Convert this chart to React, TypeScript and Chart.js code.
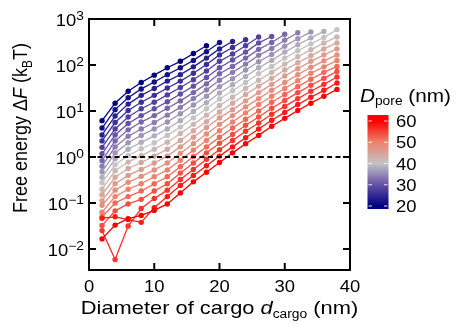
import React, { useEffect, useRef } from "react";
import { Chart, registerables } from "chart.js";

Chart.register(...registerables);

// ---------- data ----------
const cargoDiameters = [2, 4, 6, 8, 10, 12, 14, 16, 18, 20, 22, 24, 26, 28, 30, 32, 34, 36, 38];
const poreDiameters = [20, 22, 24, 26, 28, 30, 32, 34, 36, 38, 40, 42, 44, 46, 48, 50, 52, 54, 56, 58, 60];

// log10 of free energy (kBT), one list per pore diameter, starting at cargo = 2 nm
const log10F_D20 = [0.79, 1.17, 1.43, 1.62, 1.78, 1.94, 2.08, 2.25, 2.42];
const log10F_D22 = [0.63, 1.03, 1.29, 1.48, 1.63, 1.79, 1.94, 2.10, 2.29, 2.49];
const log10F_D24 = [0.48, 0.89, 1.15, 1.34, 1.49, 1.65, 1.79, 1.96, 2.15, 2.35, 2.51];
const log10F_D26 = [0.35, 0.75, 1.01, 1.19, 1.34, 1.50, 1.65, 1.82, 2.01, 2.22, 2.38, 2.55];
const log10F_D28 = [0.21, 0.61, 0.87, 1.05, 1.19, 1.35, 1.51, 1.68, 1.87, 2.08, 2.24, 2.42, 2.61];
const log10F_D30 = [0.07, 0.48, 0.73, 0.90, 1.05, 1.20, 1.37, 1.54, 1.73, 1.94, 2.11, 2.28, 2.48, 2.62];
const log10F_D32 = [-0.08, 0.35, 0.59, 0.76, 0.90, 1.06, 1.22, 1.40, 1.59, 1.81, 1.97, 2.15, 2.34, 2.49, 2.67];
const log10F_D34 = [-0.20, 0.22, 0.45, 0.61, 0.75, 0.91, 1.08, 1.27, 1.46, 1.67, 1.84, 2.02, 2.21, 2.36, 2.54, 2.70];
const log10F_D36 = [-0.32, 0.09, 0.31, 0.47, 0.61, 0.76, 0.94, 1.13, 1.32, 1.53, 1.70, 1.89, 2.07, 2.23, 2.41, 2.57, 2.72];
const log10F_D38 = [-0.44, -0.04, 0.17, 0.32, 0.46, 0.61, 0.79, 0.99, 1.18, 1.39, 1.57, 1.75, 1.94, 2.10, 2.28, 2.44, 2.59, 2.73];
const log10F_D40 = [-0.56, -0.17, 0.03, 0.18, 0.31, 0.47, 0.65, 0.85, 1.05, 1.26, 1.44, 1.62, 1.81, 1.97, 2.15, 2.31, 2.46, 2.60, 2.77];
const log10F_D42 = [-0.70, -0.30, -0.11, 0.03, 0.17, 0.32, 0.51, 0.71, 0.91, 1.12, 1.30, 1.49, 1.67, 1.84, 2.02, 2.18, 2.33, 2.48, 2.61];
const log10F_D44 = [-0.82, -0.44, -0.25, -0.12, 0.02, 0.17, 0.36, 0.57, 0.77, 0.98, 1.17, 1.36, 1.54, 1.71, 1.89, 2.05, 2.20, 2.35, 2.48];
const log10F_D46 = [-0.95, -0.58, -0.40, -0.27, -0.13, 0.02, 0.22, 0.43, 0.64, 0.85, 1.03, 1.22, 1.40, 1.58, 1.76, 1.92, 2.08, 2.22, 2.35];
const log10F_D48 = [-1.05, -0.72, -0.55, -0.42, -0.28, -0.13, 0.08, 0.29, 0.50, 0.71, 0.90, 1.09, 1.27, 1.45, 1.62, 1.79, 1.95, 2.09, 2.22];
const log10F_D50 = [-1.20, -0.86, -0.70, -0.58, -0.43, -0.28, -0.07, 0.15, 0.36, 0.57, 0.76, 0.96, 1.14, 1.32, 1.49, 1.66, 1.82, 1.96, 2.10];
const log10F_D52 = [-1.30, -1.00, -0.86, -0.74, -0.58, -0.43, -0.21, 0.01, 0.22, 0.43, 0.63, 0.82, 1.00, 1.19, 1.36, 1.53, 1.69, 1.84, 1.97];
const log10F_D54 = [-1.49, -1.17, -1.02, -0.92, -0.74, -0.58, -0.35, -0.13, 0.09, 0.30, 0.49, 0.69, 0.87, 1.06, 1.23, 1.40, 1.56, 1.71, 1.86];
const log10F_D56 = [-1.60, -2.23, -1.50, -1.12, -0.90, -0.72, -0.49, -0.27, -0.05, 0.16, 0.36, 0.56, 0.74, 0.93, 1.10, 1.27, 1.43, 1.58, 1.74];
const log10F_D58 = [-1.33, -1.30, -1.36, -1.42, -1.10, -0.86, -0.62, -0.40, -0.19, 0.02, 0.22, 0.42, 0.61, 0.80, 0.97, 1.14, 1.30, 1.45, 1.61];
const log10F_D60 = [-1.78, -1.48, -1.34, -1.27, -1.16, -1.02, -0.78, -0.54, -0.33, -0.12, 0.09, 0.29, 0.47, 0.67, 0.84, 1.01, 1.17, 1.32, 1.47];

const log10FByPore = [
  log10F_D20, log10F_D22, log10F_D24, log10F_D26, log10F_D28, log10F_D30, log10F_D32,
  log10F_D34, log10F_D36, log10F_D38, log10F_D40, log10F_D42, log10F_D44, log10F_D46,
  log10F_D48, log10F_D50, log10F_D52, log10F_D54, log10F_D56, log10F_D58, log10F_D60,
];

const xTickValues = [0, 10, 20, 30, 40];
const yTickExponents = [-2, -1, 0, 1, 2, 3];
const colorbarTickValues = [20, 30, 40, 50, 60];
const thresholdF = 1;
const xRange = [0, 40];
const yRange = [0.0035, 1000];

// ---------- styling ----------
const FONT = '"Liberation Sans", Arial, Helvetica, sans-serif';
const SX = 1.15; // horizontal stretch of the reference's lettering

const cmapStops: [number, number[]][] = [
  [20, [0, 0, 128]],
  [30, [100, 80, 165]],
  [40, [195, 195, 195]],
  [50, [238, 130, 110]],
  [60, [255, 0, 0]],
];

function cmap(v: number): string {
  if (v <= cmapStops[0][0]) return `rgb(${cmapStops[0][1].join(",")})`;
  for (let i = 0; i < cmapStops.length - 1; i++) {
    const [a, ca] = cmapStops[i];
    const [b, cb] = cmapStops[i + 1];
    if (v <= b) {
      const t = (v - a) / (b - a);
      const c = ca.map((q, j) => Math.round(q + (cb[j] - q) * t));
      return `rgb(${c.join(",")})`;
    }
  }
  return `rgb(${cmapStops[cmapStops.length - 1][1].join(",")})`;
}

type Part = { t: string; font: string; dy?: number };

function drawRich(
  ctx: CanvasRenderingContext2D,
  parts: Part[],
  x: number,
  y: number,
  align: "left" | "center" | "right",
  sx = SX
) {
  ctx.save();
  ctx.translate(x, y);
  ctx.scale(sx, 1);
  ctx.textBaseline = "alphabetic";
  ctx.textAlign = "left";
  let w = 0;
  for (const p of parts) {
    ctx.font = p.font;
    w += ctx.measureText(p.t).width;
  }
  let cx = align === "left" ? 0 : align === "center" ? -w / 2 : -w;
  for (const p of parts) {
    ctx.font = p.font;
    ctx.fillText(p.t, cx, p.dy || 0);
    cx += ctx.measureText(p.t).width;
  }
  ctx.restore();
}

function line(ctx: CanvasRenderingContext2D, x1: number, y1: number, x2: number, y2: number) {
  ctx.beginPath();
  ctx.moveTo(x1, y1);
  ctx.lineTo(x2, y2);
  ctx.stroke();
}

const decorPlugin = {
  id: "decor",
  afterDraw(chart: any) {
    const ctx: CanvasRenderingContext2D = chart.ctx;
    const { left, right, top, bottom } = chart.chartArea;
    const xs = chart.scales.x;
    const ys = chart.scales.y;
    ctx.save();
    ctx.fillStyle = "#000";
    ctx.strokeStyle = "#000";

    // frame
    ctx.lineWidth = 2;
    ctx.strokeRect(left, top, right - left, bottom - top);

    // inward ticks
    const tl = 7;
    for (const v of xTickValues) {
      const px = xs.getPixelForValue(v);
      line(ctx, px, bottom, px, bottom - tl);
      line(ctx, px, top, px, top + tl);
    }
    for (const e of yTickExponents) {
      const py = ys.getPixelForValue(Math.pow(10, e));
      line(ctx, left, py, left + tl, py);
      line(ctx, right, py, right - tl, py);
    }

    // x tick labels
    for (const v of xTickValues) {
      const px = xs.getPixelForValue(v);
      drawRich(ctx, [{ t: String(v), font: `16px ${FONT}` }], px, 292, "center");
    }
    // y tick labels 10^n
    for (const e of yTickExponents) {
      const py = ys.getPixelForValue(Math.pow(10, e));
      const es = e < 0 ? "\u2212" + String(-e) : String(e);
      drawRich(
        ctx,
        [
          { t: "10", font: `16px ${FONT}` },
          { t: es, font: `12px ${FONT}`, dy: -6 },
        ],
        84,
        py + 6.5,
        "right"
      );
    }

    // x title
    drawRich(
      ctx,
      [
        { t: "Diameter of cargo ", font: `19px ${FONT}` },
        { t: "d", font: `italic 19px ${FONT}` },
        { t: "cargo", font: `12px ${FONT}`, dy: 3.5 },
        { t: " (nm)", font: `19px ${FONT}` },
      ],
      (left + right) / 2,
      314,
      "center"
    );

    // y title (rotated)
    ctx.save();
    ctx.translate(27, 128);
    ctx.scale(SX, 1);
    ctx.rotate(-Math.PI / 2);
    drawRich(
      ctx,
      [
        { t: "Free energy \u0394", font: `18px ${FONT}` },
        { t: "F", font: `italic 18px ${FONT}` },
        { t: " (k", font: `18px ${FONT}` },
        { t: "B", font: `12px ${FONT}`, dy: 4 },
        { t: "T)", font: `18px ${FONT}` },
      ],
      0,
      0,
      "center",
      1
    );
    ctx.restore();

    // colour bar
    const cbx = 367.5;
    const cbw = 21;
    const cbTop = 115;
    const cbBot = 209;
    const yOf = (v: number) => 206 - (v - 20) * 2.125;
    const grad = ctx.createLinearGradient(0, yOf(20), 0, yOf(60));
    for (const [v] of cmapStops) {
      grad.addColorStop((v - 20) / 40, cmap(v));
    }
    ctx.fillStyle = grad;
    ctx.fillRect(cbx, cbTop, cbw, cbBot - cbTop);
    ctx.strokeStyle = "rgba(255,255,255,0.75)";
    ctx.lineWidth = 1.2;
    for (const v of colorbarTickValues) {
      const py = yOf(v);
      line(ctx, cbx + 1, py, cbx + 4.5, py);
      line(ctx, cbx + cbw - 4.5, py, cbx + cbw - 1, py);
    }
    ctx.fillStyle = "#000";
    for (const v of colorbarTickValues) {
      drawRich(ctx, [{ t: String(v), font: `16px ${FONT}` }], 396, yOf(v) + 6, "left");
    }
    drawRich(
      ctx,
      [
        { t: "D", font: `italic 18px ${FONT}` },
        { t: "pore", font: `12px ${FONT}`, dy: 3.5 },
        { t: " (nm)", font: `18px ${FONT}` },
      ],
      360,
      101.5,
      "left"
    );

    ctx.restore();
  },
};

export default function App() {
  const canvasRef = useRef<HTMLCanvasElement | null>(null);

  useEffect(() => {
    const canvas = canvasRef.current;
    if (!canvas) return;

    const datasets: any[] = [];
    datasets.push({
      label: "threshold",
      data: xRange.map((x) => ({ x, y: thresholdF })),
      borderColor: "#000",
      borderWidth: 2,
      borderDash: [5, 3.5],
      pointRadius: 0,
      showLine: true,
      fill: false,
    });
    for (let i = poreDiameters.length - 1; i >= 0; i--) {
      const vals = log10FByPore[i];
      const c = cmap(poreDiameters[i]);
      datasets.push({
        label: `D = ${poreDiameters[i]} nm`,
        data: vals.map((L, j) => ({ x: cargoDiameters[j], y: Math.pow(10, L) })),
        borderColor: c,
        backgroundColor: c,
        pointBackgroundColor: c,
        pointBorderColor: c,
        pointBorderWidth: 0,
        pointRadius: 2.7,
        borderWidth: 1.3,
        showLine: true,
        fill: false,
      });
    }

    const chart = new Chart(canvas, {
      type: "scatter",
      data: { datasets },
      options: {
        responsive: false,
        animation: false,
        devicePixelRatio: 1,
        layout: { padding: { left: 89, right: 107, top: 19, bottom: 54 } },
        scales: {
          x: { type: "linear", min: xRange[0], max: xRange[1], display: false },
          y: { type: "logarithmic", min: yRange[0], max: yRange[1], display: false },
        },
        plugins: {
          legend: { display: false },
          tooltip: { enabled: false },
        },
      },
      plugins: [decorPlugin],
    } as any);

    return () => chart.destroy();
  }, []);

  return (
    <canvas
      ref={canvasRef}
      width={457}
      height={324}
      style={{ position: "fixed", left: 0, top: 0, width: 457, height: 324, display: "block", background: "#fff" }}
    />
  );
}
